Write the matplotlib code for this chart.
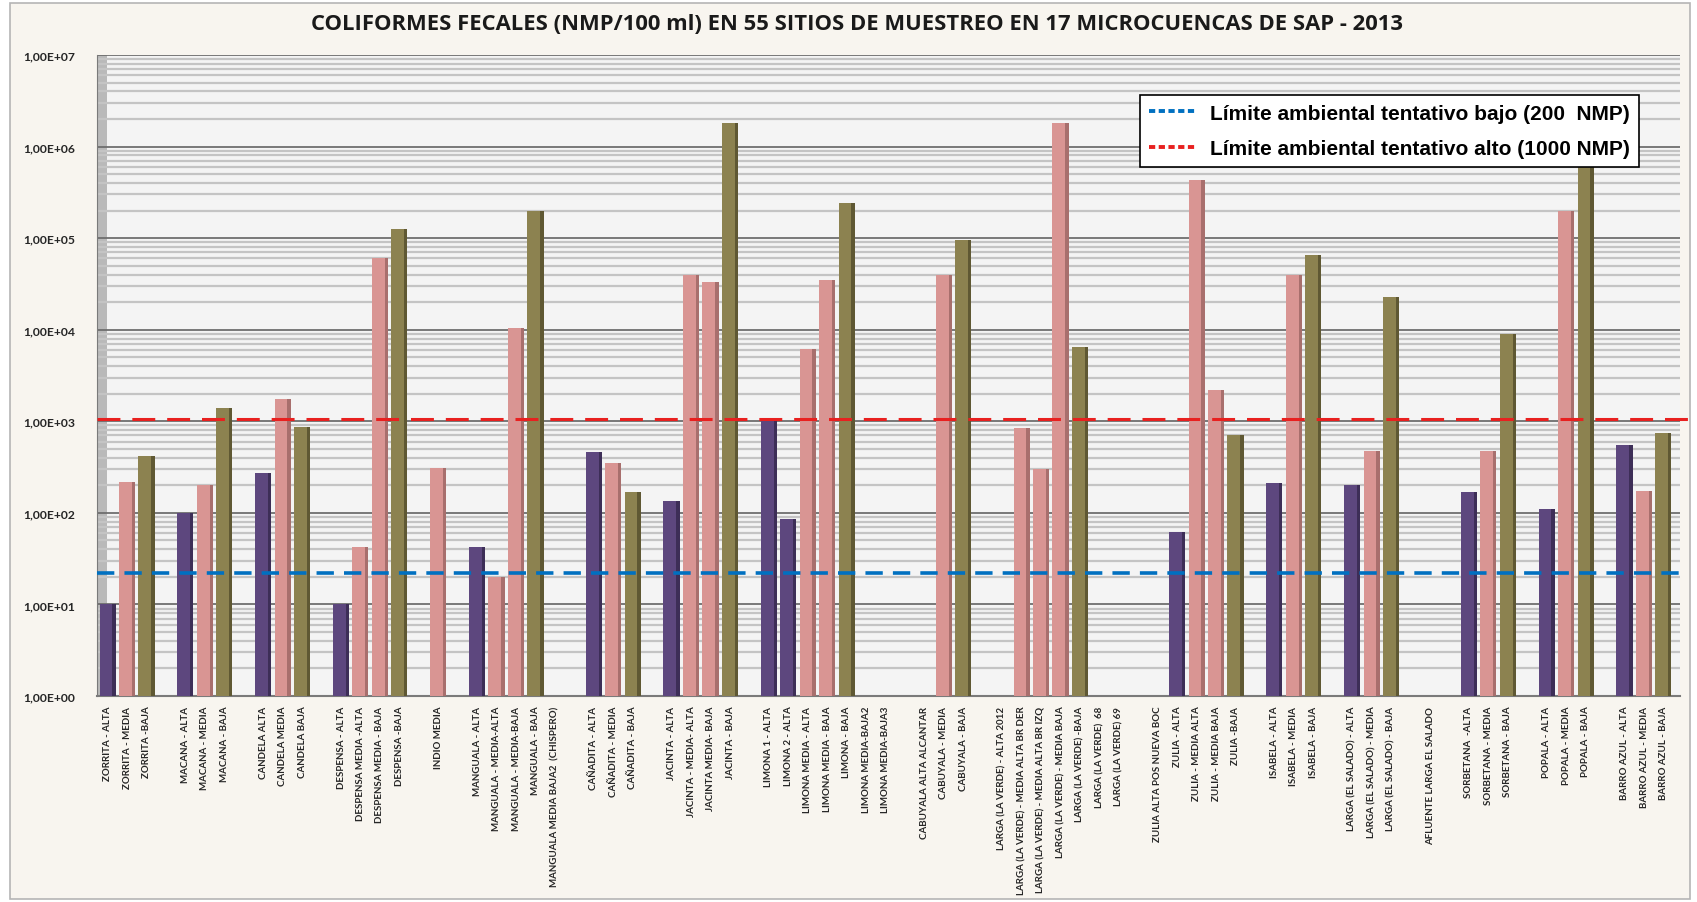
import numpy as np
import matplotlib
matplotlib.use("Agg")
import matplotlib.pyplot as plt
from matplotlib.lines import Line2D
from matplotlib.patches import Rectangle
from matplotlib.ticker import FixedLocator, FuncFormatter, LogLocator, NullFormatter

title = "COLIFORMES FECALES (NMP/100 ml) EN 55 SITIOS DE MUESTREO EN 17 MICROCUENCAS DE SAP - 2013"

# sites, grouped by microcuenca (a blank slot is left between groups)
group_sizes = [3, 3, 3, 4, 1, 5, 3, 4, 7, 3, 7, 5, 3, 3, 1, 3, 3, 3]
sites = [
    "ZORRITA - ALTA", "ZORRITA - MEDIA", "ZORRITA -BAJA",
    "MACANA - ALTA", "MACANA - MEDIA", "MACANA - BAJA",
    "CANDELA ALTA", "CANDELA MEDIA", "CANDELA BAJA",
    "DESPENSA - ALTA", "DESPENSA MEDIA -ALTA", "DESPENSA MEDIA - BAJA", "DESPENSA -BAJA",
    "INDIO MEDIA",
    "MANGUALA - ALTA", "MANGUALA - MEDIA-ALTA", "MANGUALA - MEDIA-BAJA", "MANGUALA - BAJA",
    "MANGUALA MEDIA BAJA2  (CHISPERO)",
    "CAÑADITA - ALTA", "CAÑADITA - MEDIA", "CAÑADITA - BAJA",
    "JACINTA - ALTA", "JACINTA - MEDIA- ALTA", "JACINTA MEDIA- BAJA", "JACINTA - BAJA",
    "LIMONA 1 - ALTA", "LIMONA 2 - ALTA", "LIMONA MEDIA - ALTA", "LIMONA MEDIA - BAJA",
    "LIMONA - BAJA", "LIMONA MEDIA-BAJA2", "LIMONA MEDIA-BAJA3",
    "CABUYALA ALTA ALCANTAR", "CABUYALA - MEDIA", "CABUYALA - BAJA",
    "LARGA (LA VERDE) - ALTA 2012", "LARGA (LA VERDE) - MEDIA ALTA BR DER",
    "LARGA (LA VERDE) - MEDIA ALTA BR IZQ", "LARGA (LA VERDE) - MEDIA BAJA",
    "LARGA (LA VERDE) -BAJA", "LARGA (LA VERDE)  68", "LARGA (LA VERDE) 69",
    "ZULIA ALTA POS NUEVA BOC", "ZULIA - ALTA", "ZULIA - MEDIA ALTA", "ZULIA - MEDIA BAJA", "ZULIA -BAJA",
    "ISABELA - ALTA", "ISABELA - MEDIA", "ISABELA - BAJA",
    "LARGA (EL SALADO) - ALTA", "LARGA (EL SALADO) - MEDIA", "LARGA (EL SALADO) - BAJA",
    "AFLUENTE LARGA EL SALADO",
    "SORBETANA  -ALTA", "SORBETANA - MEDIA", "SORBETANA - BAJA",
    "POPALA - ALTA", "POPALA - MEDIA", "POPALA - BAJA",
    "BARRO AZUL - ALTA", "BARRO AZUL - MEDIA", "BARRO AZUL - BAJA",
]
# NMP/100 ml, None = no bar
values = [
    10, 220, 420,
    100, 200, 1400,
    270, 1750, 870,
    10, 42, 60000, 125000,
    310,
    42, 20, 10500, 200000,
    None,
    460, 350, 170,
    135, 40000, 33000, 1800000,
    1050, 85, 6200, 35000,
    240000, None, None,
    None, 40000, 95000,
    None, 850,
    300, 1800000,
    6500, None, None,
    None, 62, 430000, 2200, 700,
    210, 40000, 65000,
    200, 470, 23000,
    None,
    170, 470, 9000,
    110, 200000, 700000,
    550, 175, 750,
]
# A = alta, M = media, B = baja
level = [
    "A", "M", "B",
    "A", "M", "B",
    "A", "M", "B",
    "A", "M", "M", "B",
    "M",
    "A", "M", "M", "B",
    "M",
    "A", "M", "B",
    "A", "M", "M", "B",
    "A", "A", "M", "M",
    "B", "M", "M",
    "A", "M", "B",
    "A", "M",
    "M", "M",
    "B", "B", "B",
    "A", "A", "M", "M", "B",
    "A", "M", "B",
    "A", "M", "B",
    "M",
    "A", "M", "B",
    "A", "M", "B",
    "A", "M", "B",
]
limit_low = 22
limit_high = 1050
legend_labels = ["Límite ambiental tentativo bajo (200  NMP)",
                 "Límite ambiental tentativo alto (1000 NMP)"]

front = {"A": "#5d477e", "M": "#d99593", "B": "#8c8250"}
side = {"A": "#3d2e57", "M": "#a86f6d", "B": "#5f5833"}

W, H = 1697, 903
fig = plt.figure(figsize=(W / 100, H / 100), dpi=100, facecolor="white")
fig.patches.append(Rectangle((10 / W, 3 / H), 1680 / W, 896 / H, transform=fig.transFigure,
                             facecolor="#f8f5ef", edgecolor="#b5b5b5", lw=1.2, zorder=-10))

ax = fig.add_axes([97 / W, 1 - 697 / H, (1680 - 97) / W, (697 - 56) / H])
ax.set_facecolor("#f4f4f4")
ax.set_yscale("log")
ax.set_ylim(1, 1e7)
ax.set_xlim(-0.55, 80.85)

pos = []
p = 0
for n in group_sizes:
    pos.extend(range(p, p + n))
    p += n + 1
pos = np.array(pos)

for x, v, lv in zip(pos, values, level):
    if v is None:
        continue
    ax.bar(x - 0.09, v - 1, bottom=1, width=0.66, color=front[lv], zorder=3)
    ax.bar(x + 0.325, v - 1, bottom=1, width=0.17, color=side[lv], zorder=3)

# left wall
ax.axvspan(-0.55, -0.05, color="#b9b9b9", zorder=1.5, lw=0)

ax.yaxis.set_major_locator(FixedLocator([10.0 ** k for k in range(8)]))
ax.yaxis.set_major_formatter(FuncFormatter(lambda y, _: "1,00E+%02d" % round(np.log10(y))))
ax.yaxis.set_minor_locator(LogLocator(base=10, subs=np.arange(2, 10)))
ax.yaxis.set_minor_formatter(NullFormatter())
ax.grid(True, which="major", axis="y", color="#6e6e6e", lw=1.3, zorder=1)
ax.grid(True, which="minor", axis="y", color="#c4c4c4", lw=1.6, zorder=1)
ax.tick_params(axis="y", which="both", length=0, pad=16, labelcolor="#262626")
for t in ax.get_yticklabels():
    t.set_fontweight("bold")
    t.set_family("Lato")
    t.set_fontsize(8)

ax.set_xticks(pos)
ax.set_xticklabels(sites, rotation=90, ha="center", va="top", family="Lato",
                   fontsize=8, fontweight="bold", color="#262626")
ax.tick_params(axis="x", length=0, pad=7)

for s in ["top", "right"]:
    ax.spines[s].set_visible(False)
ax.spines["left"].set_color("#7a7a7a")
ax.spines["bottom"].set_color("#7a7a7a")
ax.spines["bottom"].set_linewidth(1.5)

ax.axhline(limit_low, color="#0070c0", lw=2.6, ls=(0, (4.8, 2.8)), zorder=4)
ax.plot([-0.55, 81.35], [limit_high, limit_high], color="#e8201f", lw=2.2,
        ls=(0, (7.5, 3.9)), zorder=4, clip_on=False)

handles = [Line2D([], [], color="#0070c0", lw=2.8, ls=(0, (1.6, 0.9))),
           Line2D([], [], color="#e8201f", lw=2.8, ls=(0, (1.6, 0.9)))]
leg = ax.legend(handles, legend_labels, loc="upper left",
                bbox_to_anchor=(1140 / W, 1 - 96 / H), bbox_transform=fig.transFigure,
                frameon=True, fancybox=False, framealpha=1, edgecolor="black",
                facecolor="white", borderaxespad=0, borderpad=0.42, handlelength=2.3,
                handletextpad=0.65, labelspacing=0.8,
                prop={"family": "Liberation Sans", "weight": "bold", "size": 15})
leg.get_frame().set_linewidth(1.2)
leg.set_zorder(10)

tt = fig.text(857 / W, 1 - 25 / H, title, ha="center", va="center", fontsize=14,
              fontweight="bold", family=["Open Sans", "DejaVu Sans"], color="#1a1a1a")
fig.canvas.draw()
tt.set_fontsize(14 * 1094 / tt.get_window_extent().width)

# fit the rotated site labels and the value labels to the reference lengths
labs = ax.get_xticklabels()
longest = labs[sites.index("MANGUALA MEDIA BAJA2  (CHISPERO)")]
scale = 182 / longest.get_window_extent().height
for t in labs:
    t.set_fontsize(t.get_fontsize() * scale)
ylabs = ax.get_yticklabels()
yscale = 52 / ylabs[-1].get_window_extent().width
for t in ylabs:
    t.set_fontsize(t.get_fontsize() * yscale)

fig.savefig("out.png", dpi=100, facecolor=fig.get_facecolor())
